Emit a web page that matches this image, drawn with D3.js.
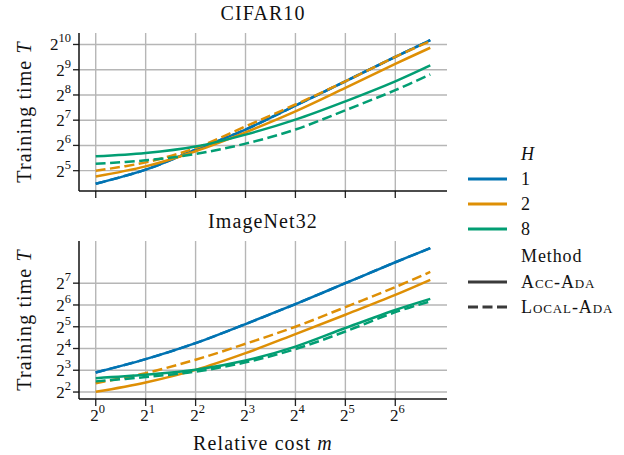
<!DOCTYPE html>
<html>
<head>
<meta charset="utf-8">
<script src="https://cdnjs.cloudflare.com/ajax/libs/d3/7.9.0/d3.min.js"></script>
<style>
  body { margin: 0; background: #fff; }
  svg text { font-family: "Liberation Serif", "DejaVu Serif", serif; fill: #111; }
</style>
</head>
<body>
<svg id="chart" width="624" height="455"></svg>
<script>
// relative cost m (x)
const M = [1, 2, 4, 8, 16, 32, 64, 104];
const H_LEVELS = ['1', '2', '8'];
const COLORS = { '1': '#0173b2', '2': '#de8f05', '8': '#029e73' };

// CIFAR10, training time T
const cifarAcc1   = [22.3, 32.9, 56.9, 99.0, 191, 372, 729, 1152];
const cifarLocal1 = [22.3, 32.9, 56.9, 99.0, 191, 372, 729, 1152];
const cifarAcc2   = [27.3, 36.0, 54.6, 91.8, 163, 311, 601, 936];
const cifarLocal2 = [32.0, 40.2, 59.7, 108, 197, 372, 729, 1121];
const cifarAcc8   = [47.5, 52.0, 62.2, 86.2, 130, 215, 372, 576];
const cifarLocal8 = [38.6, 42.5, 50.6, 67.2, 99.0, 168, 292, 449];

// ImageNet32, training time T
const imnAcc1   = [7.46, 11.4, 19.0, 34.8, 65.8, 128, 249, 390];
const imnLocal1 = [7.46, 11.4, 19.0, 34.8, 65.8, 128, 249, 390];
const imnAcc2   = [4.03, 5.43, 8.11, 13.8, 25.3, 46.9, 88.0, 142];
const imnLocal2 = [5.31, 7.31, 11.2, 18.6, 32.0, 59.7, 113, 183];
const imnAcc8   = [6.23, 6.92, 8.11, 10.9, 17.0, 30.7, 54.6, 77.7];
const imnLocal8 = [5.62, 6.45, 7.67, 10.3, 15.7, 27.5, 50.9, 71.5];

const xTickExp = [0, 1, 2, 3, 4, 5, 6];
const cifarTickExp = [5, 6, 7, 8, 9, 10];
const imnTickExp = [2, 3, 4, 5, 6, 7];

const panels = [
  { title: 'CIFAR10', top: 33, bottom: 191, ticks: cifarTickExp, showX: false,
    series: [
      { h: '1', dash: false, v: cifarAcc1 }, { h: '1', dash: true, v: cifarLocal1 },
      { h: '2', dash: false, v: cifarAcc2 }, { h: '2', dash: true, v: cifarLocal2 },
      { h: '8', dash: false, v: cifarAcc8 }, { h: '8', dash: true, v: cifarLocal8 }] },
  { title: 'ImageNet32', top: 241, bottom: 399, ticks: imnTickExp, showX: true,
    series: [
      { h: '1', dash: false, v: imnAcc1 }, { h: '1', dash: true, v: imnLocal1 },
      { h: '2', dash: false, v: imnAcc2 }, { h: '2', dash: true, v: imnLocal2 },
      { h: '8', dash: false, v: imnAcc8 }, { h: '8', dash: true, v: imnLocal8 }] }
];

const svg = d3.select('#chart');
const L = 79, R = 447;
const DASH = '10,4.5';
const LABEL_SIZE = 20, LABEL_SP = 1.1;

// log-space padding like matplotlib margins (5%)
function padLog(lo, hi) {
  const a = Math.log2(lo), b = Math.log2(hi), p = (b - a) * 0.05;
  return [2 ** (a - p), 2 ** (b + p)];
}

const x = d3.scaleLog().base(2).domain(padLog(d3.min(M), d3.max(M))).range([L, R]);

function powLabel(sel, exp) {
  sel.append('tspan').text('2').attr('font-size', 17);
  sel.append('tspan').text(exp).attr('font-size', 12.5).attr('dy', -8);
}

panels.forEach(p => {
  const all = p.series.flatMap(s => s.v);
  const y = d3.scaleLog().base(2).domain(padLog(d3.min(all), d3.max(all))).range([p.bottom, p.top]);
  const g = svg.append('g');

  // grid
  g.append('g').selectAll('line').data(xTickExp).join('line')
    .attr('x1', d => x(2 ** d)).attr('x2', d => x(2 ** d))
    .attr('y1', p.top).attr('y2', p.bottom + 7)
    .attr('stroke', '#b6b6b6').attr('stroke-width', 1.4);
  g.append('g').selectAll('line').data(p.ticks).join('line')
    .attr('x1', L - 6).attr('x2', R)
    .attr('y1', d => y(2 ** d)).attr('y2', d => y(2 ** d))
    .attr('stroke', '#b6b6b6').attr('stroke-width', 1.4);
  // tick stubs in black
  g.append('g').selectAll('line').data(p.ticks).join('line')
    .attr('x1', L - 6).attr('x2', L)
    .attr('y1', d => y(2 ** d)).attr('y2', d => y(2 ** d))
    .attr('stroke', '#222').attr('stroke-width', 1.2);
  g.append('g').selectAll('line').data(xTickExp).join('line')
    .attr('x1', d => x(2 ** d)).attr('x2', d => x(2 ** d))
    .attr('y1', p.bottom).attr('y2', p.bottom + 7)
    .attr('stroke', '#222').attr('stroke-width', 1.2);

  // lines
  const line = d3.line().x((d, i) => x(M[i])).y(d => y(d)).curve(d3.curveCatmullRom.alpha(0.5));
  g.append('g').selectAll('path').data(p.series).join('path')
    .attr('d', d => line(d.v))
    .attr('fill', 'none')
    .attr('stroke', d => COLORS[d.h])
    .attr('stroke-width', 2.5)
    .attr('stroke-dasharray', d => d.dash ? DASH : null);

  // spines
  g.append('line').attr('x1', L).attr('x2', L).attr('y1', p.top).attr('y2', p.bottom)
    .attr('stroke', '#111').attr('stroke-width', 1.5);
  g.append('line').attr('x1', L).attr('x2', R).attr('y1', p.bottom).attr('y2', p.bottom)
    .attr('stroke', '#111').attr('stroke-width', 1.5);

  // y tick labels
  p.ticks.forEach(e => {
    const t = g.append('text').attr('x', L - 8).attr('y', y(2 ** e) + 6).attr('text-anchor', 'end');
    powLabel(t, e);
  });
  if (p.showX) {
    xTickExp.forEach(e => {
      const t = g.append('text').attr('x', x(2 ** e) + 2).attr('y', p.bottom + 22).attr('text-anchor', 'middle');
      powLabel(t, e);
    });
  }

  // title
  g.append('text').attr('x', (L + R) / 2).attr('y', p.top - 13).attr('text-anchor', 'middle')
    .attr('font-size', LABEL_SIZE).attr('letter-spacing', LABEL_SP).text(p.title);

  // y label
  const yl = g.append('text')
    .attr('transform', `translate(31,${(p.top + p.bottom) / 2}) rotate(-90)`)
    .attr('text-anchor', 'middle').attr('font-size', LABEL_SIZE).attr('letter-spacing', LABEL_SP);
  yl.append('tspan').text('Training time ');
  yl.append('tspan').text('T').attr('font-style', 'italic');
});

// x label
const xl = svg.append('text').attr('x', (L + R) / 2).attr('y', 450)
  .attr('text-anchor', 'middle').attr('font-size', LABEL_SIZE).attr('letter-spacing', LABEL_SP);
xl.append('tspan').text('Relative cost ');
xl.append('tspan').text('m').attr('font-style', 'italic');

// legend
const lg = svg.append('g').attr('font-size', 18).attr('letter-spacing', 0.9);
const LX0 = 468, LX1 = 507, TX = 521;
lg.append('text').attr('x', TX).attr('y', 160).attr('font-style', 'italic').text('H');
H_LEVELS.forEach((h, i) => {
  const cy = 179 + i * 25;
  lg.append('line').attr('x1', LX0).attr('x2', LX1).attr('y1', cy).attr('y2', cy)
    .attr('stroke', COLORS[h]).attr('stroke-width', 2.8);
  lg.append('text').attr('x', TX).attr('y', cy + 6).text(h);
});
lg.append('text').attr('x', TX).attr('y', 262).text('Method');
[['Acc-Ada', false], ['Local-Ada', true]].forEach(([name, dash], i) => {
  const cy = 282 + i * 25;
  lg.append('line').attr('x1', LX0).attr('x2', LX1).attr('y1', cy).attr('y2', cy)
    .attr('stroke', '#3a3a3a').attr('stroke-width', 2.8)
    .attr('stroke-dasharray', dash ? DASH : null);
  lg.append('text').attr('x', TX).attr('y', cy + 6)
    .style('font-variant', 'small-caps').text(name);
});
</script>
</body>
</html>
